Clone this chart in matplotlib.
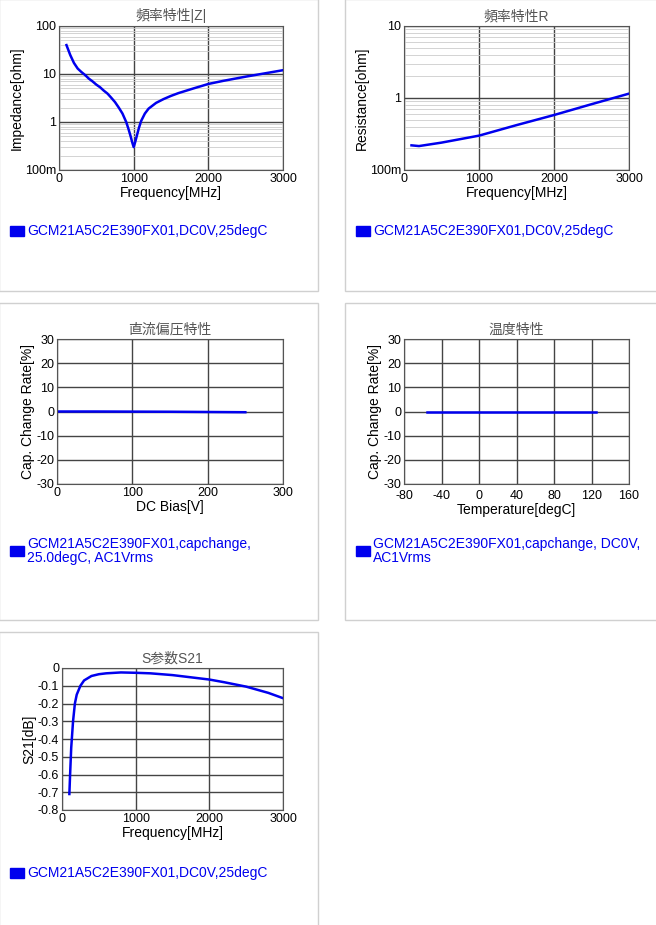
import matplotlib
matplotlib.use("Agg")
import matplotlib.pyplot as plt
from matplotlib.patches import Rectangle
import numpy as np

plt.rcParams['font.family'] = ['Liberation Sans', 'Noto Sans CJK JP']
plt.rcParams['axes.unicode_minus'] = False

freq_z = [100,150,200,250,300,350,400,450,500,550,600,650,700,750,800,850,900,930,960,980,1000,
          1020,1040,1070,1100,1150,1200,1300,1400,1500,1600,1800,2000,2200,2500,2800,3000]
imp_z = [40,25,17,13,11,9.5,8,7,6,5.3,4.5,3.9,3.2,2.6,2.0,1.5,1.0,0.72,0.5,0.38,0.3,
         0.38,0.5,0.75,1.05,1.5,1.9,2.5,3.0,3.5,4.0,5.0,6.2,7.2,8.8,10.6,12]
freq_r = [100,200,500,1000,1500,2000,2500,3000]
res_r = [0.22,0.215,0.24,0.3,0.42,0.58,0.82,1.15]
dc_v = [0,50,100,150,200,250]
dc_cap = [0,0,-0.05,-0.1,-0.2,-0.3]
temp_t = [-55,0,25,85,125]
temp_cap = [0,0,0,0,0]
freq_s = [100,110,125,150,175,200,250,300,400,500,600,800,1000,1200,1500,1800,2000,2200,2500,2800,3000]
s21 = [-0.71,-0.6,-0.45,-0.3,-0.2,-0.15,-0.1,-0.07,-0.045,-0.035,-0.03,-0.025,-0.027,-0.03,-0.04,
       -0.055,-0.065,-0.08,-0.105,-0.14,-0.17]

W, H = 656, 925
fig = plt.figure(figsize=(W/100, H/100), dpi=100)
BLUE = '#0000ee'

def ax_at(x0, y0, x1, y1):
    return fig.add_axes([x0/W, 1-y1/H, (x1-x0)/W, (y1-y0)/H])

def box(x0, y0, x1, y1):
    fig.patches.append(Rectangle((x0/W, 1-y1/H), (x1-x0)/W, (y1-y0)/H, transform=fig.transFigure,
                                 fill=False, edgecolor='#d0d0d0', lw=1))

def legend(x, y, text):
    fig.patches.append(Rectangle(((x)/W, 1-(y+5)/H), 14/W, 10/H, transform=fig.transFigure, color=BLUE))
    fig.text((x+17)/W, 1-y/H, text, color=BLUE, fontsize=10, va='center', ha='left', linespacing=1.0)

box(-1, -1, 318, 291); box(345, -1, 657, 291)
box(-1, 303, 318, 620); box(345, 303, 657, 620)
box(-1, 632, 318, 926)

def style(ax, title, xl, yl):
    ax.set_title(title, fontsize=10, color='#555555', pad=4)
    ax.set_xlabel(xl, fontsize=10, labelpad=1)
    ax.set_ylabel(yl, fontsize=10, labelpad=1)
    ax.tick_params(labelsize=9, length=0, pad=2)
    for s in ax.spines.values():
        s.set_color('#555555')

def logax(ax, x, y, title, yl):
    ax.plot(x, y, color=BLUE, lw=1.8)
    ax.set_yscale('log')
    ax.set_xlim(0, 3000); ax.set_xticks([0,1000,2000,3000])
    ax.grid(True, which='major', color='#444444', lw=1)
    ax.grid(True, which='minor', axis='y', color='#cccccc', lw=0.6)
    ax.yaxis.set_minor_locator(matplotlib.ticker.LogLocator(base=10, subs=np.arange(2,10)))
    ax.yaxis.set_minor_formatter(matplotlib.ticker.NullFormatter())
    ax.tick_params(which='minor', length=0)
    style(ax, title, 'Frequency[MHz]', yl)

a1 = ax_at(59, 26, 283, 170)
logax(a1, freq_z, imp_z, '頻率特性|Z|', 'Impedance[ohm]')
a1.set_ylim(0.1, 100); a1.set_yticks([0.1,1,10,100]); a1.set_yticklabels(['100m','1','10','100'])
legend(10, 231, 'GCM21A5C2E390FX01,DC0V,25degC')

a2 = ax_at(404, 26, 629, 170)
logax(a2, freq_r, res_r, '頻率特性R', 'Resistance[ohm]')
a2.set_ylim(0.1, 10); a2.set_yticks([0.1,1,10]); a2.set_yticklabels(['100m','1','10'])
legend(356, 231, 'GCM21A5C2E390FX01,DC0V,25degC')

def linax(ax, x, y, title, xl, yl):
    ax.plot(x, y, color=BLUE, lw=1.8)
    ax.grid(True, color='#444444', lw=1)
    style(ax, title, xl, yl)

a3 = ax_at(57, 339, 283, 484)
linax(a3, dc_v, dc_cap, '直流偏圧特性', 'DC Bias[V]', 'Cap. Change Rate[%]')
a3.set_xlim(0, 300); a3.set_xticks([0,100,200,300])
a3.set_ylim(-30, 30); a3.set_yticks(range(-30, 31, 10))
legend(10, 551, 'GCM21A5C2E390FX01,capchange,\n25.0degC, AC1Vrms')

a4 = ax_at(404, 339, 629, 484)
linax(a4, temp_t, temp_cap, '温度特性', 'Temperature[degC]', 'Cap. Change Rate[%]')
a4.set_xlim(-80, 160); a4.set_xticks(range(-80, 161, 40))
a4.set_ylim(-30, 30); a4.set_yticks(range(-30, 31, 10))
a4.tick_params(axis='x', pad=4)
legend(356, 551, 'GCM21A5C2E390FX01,capchange, DC0V,\nAC1Vrms')

a5 = ax_at(62, 668, 283, 810)
linax(a5, freq_s, s21, 'S参数S21', 'Frequency[MHz]', 'S21[dB]')
a5.set_xlim(0, 3000); a5.set_xticks([0,1000,2000,3000])
a5.set_ylim(-0.8, 0); a5.set_yticks(np.round(np.arange(-0.8, 0.01, 0.1), 1))
a5.set_yticklabels(['-0.8','-0.7','-0.6','-0.5','-0.4','-0.3','-0.2','-0.1','0'])
legend(10, 873, 'GCM21A5C2E390FX01,DC0V,25degC')

fig.savefig('out.png', dpi=100)
